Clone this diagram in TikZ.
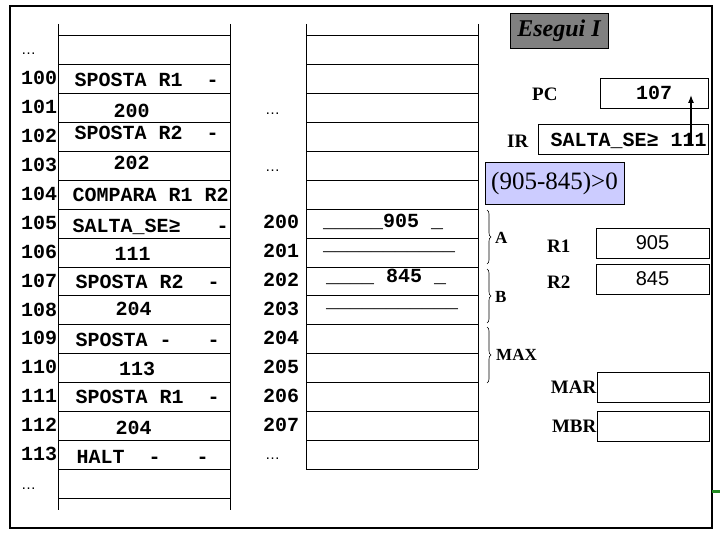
\documentclass[tikz,border=0pt]{standalone}
\usepackage{fontspec}
\setmainfont{Liberation Serif}
\setsansfont{Liberation Sans}
\setmonofont{Liberation Mono}
\usetikzlibrary{arrows.meta,decorations.pathreplacing}

\definecolor{lavanda}{RGB}{204,204,255}
\definecolor{grigio}{RGB}{128,128,128}
\definecolor{verde}{RGB}{34,139,34}

\tikzset{
  cella/.style={font=\ttfamily\bfseries\fontsize{20}{22}\selectfont,inner sep=0pt,anchor=base west},
  puntini/.style={font=\sffamily\fontsize{15}{17}\selectfont,inner sep=0pt,anchor=base west},
  reg/.style={draw,line width=0.9pt,minimum height=30pt,inner sep=0pt},
  nomereg/.style={font=\bfseries\fontsize{19}{21}\selectfont,inner sep=0pt},
  etich/.style={font=\bfseries\fontsize{17}{19}\selectfont,inner sep=0pt,anchor=west},
  graffa/.style={decorate,decoration={brace,amplitude=4pt},line width=0.6pt}
}

\begin{document}
\begin{tikzpicture}[x=1pt,y=-1pt,>=latex]
\useasboundingbox (0,0) rectangle (720,540);

\draw[line width=1.4pt] (10,6) rectangle (712,528);
\fill[verde] (712,489.5) rectangle (720,492.5);

\draw[line width=1pt] (58,24)--(58,510) (230,24)--(230,510);
\draw[line width=1pt] (306,24)--(306,469) (478,24)--(478,469);
\foreach \k in {0,...,16}{
	\draw[line width=1pt] (58,{36+28.875*\k})--(230,{36+28.875*\k});
}
\foreach \k in {0,...,15}{
	\draw[line width=1pt] (306,{36+28.875*\k})--(478,{36+28.875*\k});
}

\foreach \a [count=\i from 0] in {100,...,113}{
	\node[cella] (ind\a) at (21,{85+28.875*\i}) {\a};
}
\foreach \a [count=\i from 0] in {200,...,207}{
	\node[cella] (ind\a) at (263,{229+28.875*\i}) {\a};
}
\node[puntini] (pa) at (21,55) {…};
\node[puntini] (pb) at (21,489) {…};
\node[puntini] (pc1) at (265,115) {…};
\node[puntini] (pc2) at (265,172) {…};
\node[puntini] (pd) at (265,459) {…};

\foreach \x/\y/\t [count=\i] in {
	74.5/87/SPOSTA~R1~~-, 113.5/118/200, 74.5/140/SPOSTA~R2~~-, 113.5/170/202,
	72.5/202/COMPARA~R1~R2, 72.5/233/SALTA\_SE≥~~~-, 114.5/260/111,
	75.5/288/SPOSTA~R2~~-, 115.5/315/204, 75.5/346/SPOSTA~-~~~-,
	119/375/113, 75.5/403/SPOSTA~R1~~-, 115.5/434/204, 76.5/463/HALT~~-~~~-}{
	\node[cella] (istr\i) at (\x,\y) {\t};
}

\node[cella] (dato1) at (323,227) {\_\_\_\_\_905~\_};
\node[cella] (dato2) at (323,251) {\_\_\_\_\_\_\_\_\_\_\_};
\node[cella] (dato3) at (326,282) {\_\_\_\_~845~\_};
\node[cella] (dato4) at (326,307) {\_\_\_\_\_\_\_\_\_\_\_};

\node[reg,fill=grigio,minimum width=98pt,minimum height=35pt,font=\bfseries\itshape\fontsize{24}{26}\selectfont] (esegui) at (559,30.5) {Esegui I};

\node[nomereg,anchor=west] (lpc) at (532,94) {PC};
\node[reg,minimum width=108pt,font=\ttfamily\bfseries\fontsize{20}{22}\selectfont] (pc) at (654,93) {107};
\node[nomereg,anchor=west] (lir) at (507,141) {IR};
\node[reg,minimum width=170pt] (ir) at (623,139) {};
\node[cella] (irtesto) at (550.5,147) {SALTA\_SE≥~111};
\coordinate (salto) at (691,146);
\coordinate (arrivo) at (691,95);
\draw[-{Latex[length=8pt,width=6pt]},line width=1.2pt] (salto)--(arrivo);

\node[reg,fill=lavanda,minimum width=139pt,minimum height=42pt,font=\fontsize{25}{27}\selectfont] (confronto) at (554.5,183) {(905-845)>0};

\draw[graffa] (487,210)--(487,264);
\draw[graffa] (487,269)--(487,323);
\draw[graffa] (487,327)--(487,383);
\node[etich] (ga) at (495,238) {A};
\node[etich] (gb) at (495,297) {B};
\node[etich] (gmax) at (496,355) {MAX};

\node[nomereg,anchor=west] (lr1) at (547,246) {R1};
\node[reg,minimum width=113pt,font=\sffamily\fontsize{20}{22}\selectfont] (r1) at (652.5,243) {905};
\node[nomereg,anchor=west] (lr2) at (547,282) {R2};
\node[reg,minimum width=113pt,font=\sffamily\fontsize{20}{22}\selectfont] (r2) at (652.5,279) {845};

\node[reg,minimum width=112pt] (mar) at (653,387) {};
\node[nomereg,anchor=east] (lmar) at (mar.west) {MAR};
\node[reg,minimum width=112pt] (mbr) at (653,426) {};
\node[nomereg,anchor=east] (lmbr) at (mbr.west) {MBR};

\end{tikzpicture}
\end{document}
